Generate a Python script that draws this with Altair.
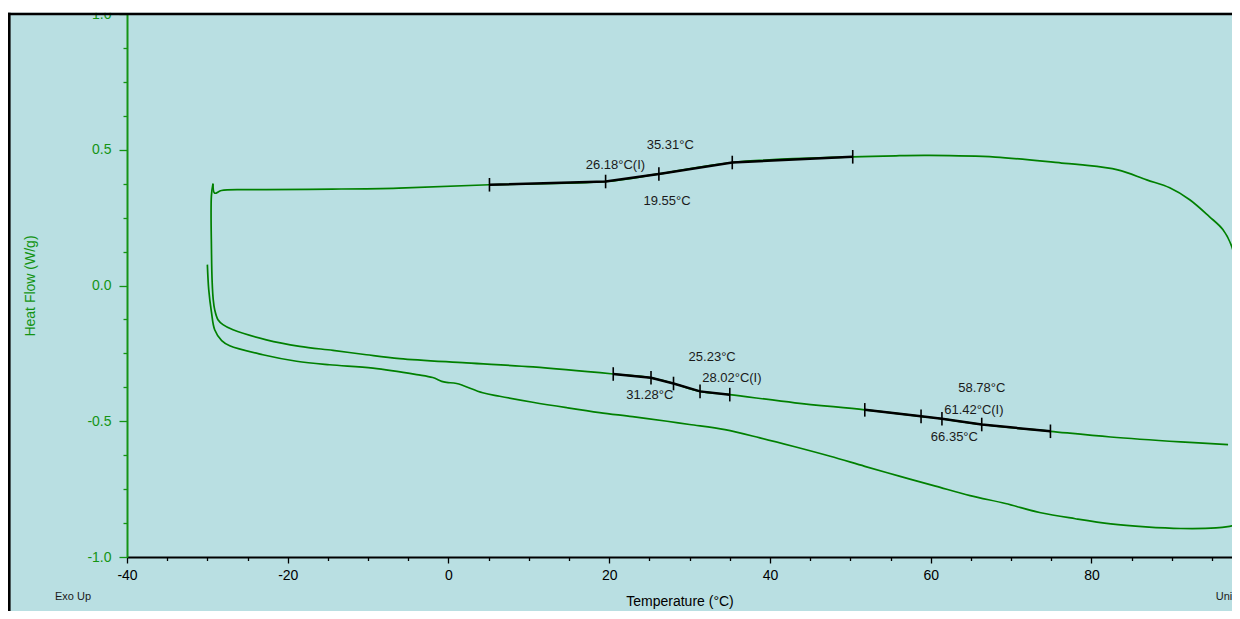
import altair as alt
import pandas as pd

# ---- heating 1 (lower trace) ----
h1_t = [-30.0, -29.83, -29.5, -29.09, -28.22, -27.22, -23.1, -18.9, -14.8, -9.4, -3.95, -1.96, -0.84,
        -0.22, 1.02, 4.26, 6.37, 10.48, 14.7, 18.8, 22.9, 27.2, 30.0, 34.4, 38.75, 43.1, 47.5, 51.8,
        56.2, 60.6, 64.9, 69.3, 73.7, 78.0, 82.4, 86.75, 91.1, 95.5, 97.2, 97.9, 98.4, 98.8]
h1_v = [0.077, -0.015, -0.096, -0.163, -0.203, -0.222, -0.255, -0.279, -0.292, -0.304, -0.328, -0.339,
        -0.353, -0.357, -0.361, -0.395, -0.408, -0.430, -0.450, -0.468, -0.483, -0.500, -0.512, -0.531,
        -0.561, -0.594, -0.629, -0.666, -0.703, -0.739, -0.774, -0.803, -0.837, -0.859, -0.878, -0.889,
        -0.895, -0.893, -0.887, -0.883, -0.890, -0.880]

# ---- cooling (upper trace) ----
cool_t = [-29.3, -29.09, -28.25, -25.35, -22.7, -14.46, -6.2, 5.1, 19.55, 26.18, 35.31, 50.3, 56.1,
          59.8, 68.06, 76.3, 78.55, 83.27, 86.88, 89.74, 92.23, 94.7, 96.35, 97.47, 97.84, 98.2, 98.33,
          98.5, 98.6]
cool_v = [0.375, 0.340, 0.350, 0.353, 0.353, 0.355, 0.359, 0.371, 0.383, 0.411, 0.453, 0.474, 0.478,
          0.479, 0.473, 0.451, 0.445, 0.426, 0.389, 0.360, 0.316, 0.253, 0.206, 0.143, 0.095, 0.032,
          -0.015, -0.163, -0.42]

# ---- heating 2 (middle trace) ----
h2_t = [-29.3, -29.5, -29.49, -29.4, -29.27, -29.09, -28.68, -28.06, -26.81, -22.66, -18.51, -14.37,
        -10.21, -6.07, 2.23, 10.52, 20.5, 25.2, 28.0, 31.3, 35.0, 43.1, 51.8, 58.8, 61.4, 66.35, 74.9,
        82.39, 91.1, 97.0]
h2_v = [0.375, 0.33, 0.132, 0.010, -0.052, -0.089, -0.126, -0.144, -0.163, -0.200, -0.224, -0.239,
        -0.255, -0.269, -0.285, -0.300, -0.326, -0.340, -0.361, -0.390, -0.402, -0.432, -0.458, -0.482,
        -0.491, -0.512, -0.537, -0.558, -0.576, -0.586]

# ---- glass transition analysis segments ----
seg1_t = [5.1, 19.55, 26.18, 35.31, 50.3]
seg1_v = [0.371, 0.383, 0.411, 0.453, 0.474]
seg2_t = [20.5, 25.2, 28.0, 31.3, 35.0]
seg2_v = [-0.326, -0.340, -0.361, -0.390, -0.402]
seg3_t = [51.8, 58.8, 61.4, 66.35, 74.9]
seg3_v = [-0.458, -0.482, -0.491, -0.512, -0.537]

# ---- annotations ----
ann_text = ["35.31°C", "26.18°C(I)", "19.55°C", "25.23°C", "28.02°C(I)", "31.28°C",
            "58.78°C", "61.42°C(I)", "66.35°C"]
ann_t = [27.59, 20.77, 27.19, 32.81, 35.26, 25.04, 66.35, 65.37, 62.95]
ann_v = [0.518, 0.442, 0.310, -0.263, -0.340, -0.402, -0.377, -0.457, -0.559]

x_ticks = [-40, -35, -30, -25, -20, -15, -10, -5, 0, 5, 10, 15, 20, 25, 30, 35, 40, 45, 50, 55, 60,
           65, 70, 75, 80, 85, 90, 95]
y_ticks = [-1.0, -0.875, -0.75, -0.625, -0.5, -0.375, -0.25, -0.125, 0.0, 0.125, 0.25, 0.375, 0.5,
           0.625, 0.75, 0.875, 1.0]

# ---- tables ----
rows = []
for name, ts, vs in [("heat1", h1_t, h1_v), ("cool", cool_t, cool_v), ("heat2", h2_t, h2_v)]:
    for i, (t, v) in enumerate(zip(ts, vs)):
        rows.append({"series": name, "idx": i, "t": t, "v": v})
curves = pd.DataFrame(rows)

srows = []
for name, ts, vs in [("s1", seg1_t, seg1_v), ("s2", seg2_t, seg2_v), ("s3", seg3_t, seg3_v)]:
    for i, (t, v) in enumerate(zip(ts, vs)):
        srows.append({"seg": name, "idx": i, "t": t, "v": v})
segs = pd.DataFrame(srows)

ann = pd.DataFrame({"label": ann_text, "t": ann_t, "v": ann_v})

GREEN = "#008000"
AXGREEN = "#149414"
FONT = "Liberation Sans"

W = 1105
H = 543
xs = alt.Scale(domain=[-40, 97.49], nice=False, zero=False)
ys = alt.Scale(domain=[-1, 1], nice=False, zero=False)

xaxis = alt.Axis(
    values=x_ticks, title="Temperature (°C)", grid=False, zindex=0,
    labelExpr="datum.value % 20 === 0 ? (datum.value < 0 ? '-' : '') + abs(datum.value) : ''",
    tickSize={"condition": {"test": "datum.value % 20 === 0", "value": 6}, "value": 3.5},
    tickColor="black", domainColor="black", domainWidth=1.8, tickWidth=1.3,
    labelColor="black", labelFont=FONT, labelFontSize=14, labelPadding=5, labelFlush=False,
    labelOverlap=False,
    titleColor="black", titleFont=FONT, titleFontSize=14, titleFontWeight="normal",
    titleY=44, titleBaseline="middle",
)
yaxis = alt.Axis(
    values=y_ticks, title="Heat Flow (W/g)", grid=False, zindex=0,
    labelExpr="abs(datum.value*2 - round(datum.value*2)) < 0.001 ? (datum.value < 0 ? '-' : '') + format(abs(datum.value), '.1f') : ''",
    tickSize={"condition": {"test": "abs(datum.value*2 - round(datum.value*2)) < 0.001", "value": 8}, "value": 4},
    tickColor=AXGREEN, domainColor=AXGREEN, domainWidth=2, tickWidth=1.3,
    labelColor=AXGREEN, labelFont=FONT, labelFontSize=14, labelPadding=8, labelFlush=False,
    labelOverlap=False,
    titleColor=AXGREEN, titleFont=FONT, titleFontSize=14, titleFontWeight="normal",
    titleX=-97, titleY=271.5, titleBaseline="middle", titleAlign="center",
)

X = alt.X("t:Q", scale=xs, axis=xaxis)
Y = alt.Y("v:Q", scale=ys, axis=yaxis)

green = alt.Chart(curves).mark_line(color=GREEN, strokeWidth=1.7, clip=True,
                                    interpolate="catmull-rom").encode(
    x=X, y=Y, detail="series:N", order="idx:Q")

black = alt.Chart(segs).mark_line(color="black", strokeWidth=2.5, clip=True).encode(
    x=X, y=Y, detail="seg:N", order="idx:Q")

ticks = alt.Chart(segs).transform_calculate(
    v1="datum.v + 0.025", v2="datum.v - 0.025"
).mark_rule(color="black", strokeWidth=1.6).encode(
    x=X, y=alt.Y("v1:Q", scale=ys, axis=yaxis), y2="v2:Q")

labels = alt.Chart(ann).mark_text(font=FONT, fontSize=13, color="#1a1a1a",
                                  align="center", baseline="middle").encode(
    x=X, y=Y, text="label:N")

one = pd.DataFrame({"k": [0]})
white_top = alt.Chart(one).mark_rect(color="white").encode(
    x=alt.value(-119), x2=alt.value(W), y=alt.value(-6), y2=alt.value(-1.3))
frame_top = alt.Chart(one).mark_rule(color="black", strokeWidth=2.6).encode(
    x=alt.value(-119), x2=alt.value(W), y=alt.value(0))
frame_left = alt.Chart(one).mark_rule(color="black", strokeWidth=2.6).encode(
    x=alt.value(-117.7), y=alt.value(-1.3), y2=alt.value(600))
exo = alt.Chart(one).mark_text(font=FONT, fontSize=11, color="#1a1a1a", align="left",
                               baseline="middle").encode(
    x=alt.value(-72), y=alt.value(583), text=alt.value("Exo Up"))
univ = alt.Chart(one).mark_text(font=FONT, fontSize=11, color="#1a1a1a", align="left",
                                baseline="middle").encode(
    x=alt.value(1088.7), y=alt.value(583), text=alt.value("Universal V4.5A TA Instruments"))

chart = alt.layer(green, black, ticks, labels, white_top, frame_top, frame_left, exo, univ).properties(
    width=W, height=H,
    padding={"left": 119, "top": 6, "right": 0, "bottom": 54},
    autosize="none",
    background="#B9DFE2",
).configure_view(stroke=None)

chart.save("out.html", embed_options={"renderer": "svg", "actions": False})
